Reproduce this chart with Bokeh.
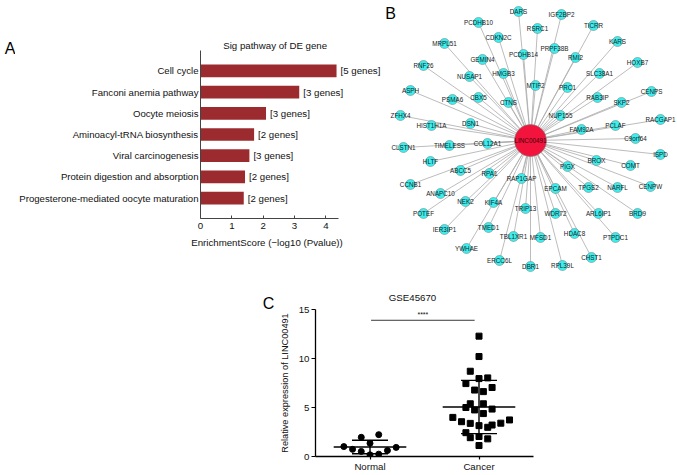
from bokeh.plotting import figure
from bokeh.layouts import column, row
from bokeh.models import Range1d, FactorRange, FixedTicker, Label, Title
from bokeh.embed import file_html
from bokeh.resources import INLINE
from bokeh.core.properties import value
import numpy as np

FONT = "Liberation Sans"

# ---------------- Panel A data ----------------
pathways = ["Cell cycle", "Fanconi anemia pathway", "Oocyte meiosis",
            "Aminoacyl-tRNA biosynthesis", "Viral carcinogenesis",
            "Protein digestion and absorption",
            "Progesterone-mediated oocyte maturation"]
enrichment = [4.34, 3.15, 2.09, 1.71, 1.56, 1.42, 1.38]
gene_counts = [5, 3, 3, 2, 3, 2, 2]
a_ticks = [0, 1, 2, 3, 4]

# ---------------- Panel B data (network layout, hub at origin) ----------------
hub_name = "LINC00491"
node_names = ["DARS", "IGF2BP2", "PCDHB10", "RSRC1", "TICRR", "MRPL51", "CDKN2C",
              "PRPF38B", "KARS", "PCDHB14", "RMI2", "GEMIN4", "HOXB7", "RNF26",
              "NUSAP1", "HMGB3", "SLC38A1", "MTIF2", "PRC1", "ASPH", "CENPS",
              "PSMA6", "CBX5", "RAB3IP", "CTNS", "SKP2", "ZFHX4", "NUP155",
              "HIST1H1A", "DSN1", "RACGAP1", "PCLAF", "FAM92A", "C9orf64",
              "CLSTN1", "TIMELESS", "COL12A1", "ISPD", "HLTF", "ABCC5", "RPA1",
              "PIGX", "BROX", "COMT", "CCNB1", "RAP1GAP", "EPCAM", "TPGS2",
              "NARFL", "CENPW", "ANAPC10", "NEK2", "KIF4A", "TRIP13", "POTEF",
              "WDR72", "ARL6IP1", "BRD9", "IER3IP1", "TMED1", "TBL1XR1", "MFSD1",
              "HDAC8", "PTPDC1", "YWHAE", "ERCC6L", "DBR1", "RPL39L", "CHST1"]
node_x = [-12, 31, -52, 7, 63, -86, -32, 24, 87, -7, 45, -48, 107, -107,
          -61, -27, 69, 5, 37, -120, 121, -78, -52, 67, -22, 91, -130, 30,
          -99, -60, 130, 85, 51, 105, -127, -81, -43, 130, -100, -70, -41,
          37, 66, 100, -120, -9, 25, 58, 87, 120, -90, -65, -37, -5, -107,
          25, 68, 107, -86, -42, -17, 10, 44, 85, -64, -31, 0, 32, 61]
node_y = [129, 126, 118, 112, 115, 97, 103, 92, 99, 86, 83, 81, 78, 75,
          64, 67, 67, 55, 53, 50, 49, 41, 43, 43, 38, 38, 25, 25,
          15, 17, 21, 15, 11, 2, -7, -5, -3, -14, -21, -30, -33,
          -26, -20, -25, -44, -38, -48, -47, -47, -46, -53, -61, -62, -68, -73,
          -73, -73, -73, -89, -87, -96, -97, -93, -97, -108, -120, -126, -125, -117]
hub_x = [0]
hub_y = [0]

# ---------------- Panel C data ----------------
groups = ["Normal", "Cancer"]
normal_vals = [1.01, 0.73, 1.96, 2.23, 1.35, 0.52, 0.17, 0.24, 0.61, 0.93]
normal_slot = [-6, -4, -2, 2, 0, -2, 0, 2, 4, 6]
cancer_vals = [12.28, 10.2, 8.7, 7.95, 8.02, 7.44, 6.78, 6.62, 7.04, 5.38,
               5.38, 5.0, 4.75, 4.84, 4.38, 3.99, 3.55, 3.38, 3.15, 2.98,
               3.21, 3.4, 3.73, 2.43, 1.92, 2.04, 1.8, 1.12]
cancer_slot = [0, 0, -2, 0, 2, -3, -1, 1, 3, -2, 1, -3, -1, 3, 1, -6, -4, -2,
               0, 2, 3, 5, 7, -3, -2, 0, 2, 0]
c_ticks = [0, 5, 10, 15]

BAR = "#9C2B2F"
CYAN = "#3CEFEF"
HUB = "#F2143D"
TXT = "#111111"


def blank(width, height, xr, yr):
    f = figure(width=width, height=height, x_range=xr, y_range=yr,
               x_axis_type=None, y_axis_type=None, min_border=0,
               output_backend="svg", toolbar_location=None)
    f.outline_line_color = None
    f.frame_align = False
    return f


ROW1 = 282
ROW2 = 193

# ================= Panel letter A =================
la = blank(15, ROW1, Range1d(0, 15), Range1d(ROW1, 0))
la.text(x=[9.5], y=[47.5], text=["A"], text_align="center", text_baseline="middle",
        text_font=value(FONT), text_font_size="16px", text_color="#000000")

# ================= Panel A =================
pa = figure(width=369, height=ROW1,
            y_range=FactorRange(factors=pathways[::-1], range_padding=0.46,
                                range_padding_units="absolute"),
            x_range=Range1d(0, 5.87),
            output_backend="svg", toolbar_location=None,
            min_border_left=185, min_border_right=0,
            min_border_top=50, min_border_bottom=64)
pa.frame_align = False
pa.hbar(y=pathways, left=0, right=enrichment, height=0.6,
        fill_color=BAR, line_color=None)
pa.text(x=enrichment, y=pathways, text=[f"[{n} genes]" for n in gene_counts],
        x_offset=4, text_align="left", text_baseline="middle",
        text_font=value(FONT), text_font_size="9.7px", text_color=TXT)
pa.xgrid.visible = False
pa.ygrid.visible = False
pa.outline_line_color = None
pa.title.text = "Sig pathway of DE gene"
pa.title.align = "left"
pa.title.offset = 22.7
pa.title.standoff = 0
pa.title.text_font = FONT
pa.title.text_font_size = "9.7px"
pa.title.text_font_style = "normal"
pa.title.text_color = TXT
pa.add_layout(Title(text="EnrichmentScore (\u2212log10 (Pvalue))", align="left",
                    offset=-9.3, standoff=6, text_font=FONT, text_font_size="9.7px",
                    text_font_style="normal", text_color=TXT), "below")
pa.xaxis.ticker = FixedTicker(ticks=a_ticks)
pa.xaxis.bounds = (0, 4.4)
pa.xaxis.major_tick_in = 3
pa.xaxis.major_tick_out = 0
pa.xaxis.minor_tick_line_color = None
pa.xaxis.major_label_standoff = 4
pa.xaxis.major_label_text_font_size = "9.7px"
pa.yaxis.major_tick_in = 0
pa.yaxis.major_tick_out = 0
pa.yaxis.major_label_standoff = 2
pa.yaxis.major_label_text_font_size = "9.6px"
for ax in (pa.xaxis, pa.yaxis):
    ax.axis_line_color = "#444444"
    ax.major_tick_line_color = "#444444"
    ax.major_label_text_font = FONT
    ax.major_label_text_color = TXT

# ================= Panel B =================
pb = blank(293, ROW1, Range1d(-146, 147), Range1d(-142, 140))
pb.segment(x0=hub_x * len(node_x), y0=hub_y * len(node_y), x1=node_x, y1=node_y,
           line_color="#ABABAB", line_width=0.8)
pb.scatter(x=hub_x, y=hub_y, size=32, marker="circle",
           fill_color=HUB, line_color="#7A7A7A", line_width=0.6)
pb.scatter(x=node_x, y=node_y, size=10, marker="circle",
           fill_color=CYAN, line_color="#6A8A8A", line_width=0.6)
pb.text(x=node_x, y=node_y, text=node_names, text_align="center",
        text_baseline="middle", text_font=value(FONT), text_font_size="6.3px",
        text_color="#222222")
pb.text(x=hub_x, y=hub_y, text=[hub_name], text_align="center",
        text_baseline="middle", text_font=value(FONT), text_font_size="6.3px",
        text_color="#3A0008")
pb.text(x=[-140], y=[127.5], text=["B"], text_align="center",
        text_baseline="middle", text_font=value(FONT), text_font_size="16px",
        text_color="#000000")

# ================= Panel letter C =================
lc = blank(276, ROW2, Range1d(0, 276), Range1d(ROW2, 0))
lc.text(x=[268], y=[21], text=["C"], text_align="center", text_baseline="middle",
        text_font=value(FONT), text_font_size="16px", text_color="#000000")

# ================= Panel C =================
step = 0.04
pc = figure(width=267, height=ROW2, x_range=Range1d(-0.5, 1.5), y_range=Range1d(0, 15),
            output_backend="svg", toolbar_location=None,
            min_border_left=35, min_border_right=10,
            min_border_top=26, min_border_bottom=19)
pc.frame_align = False
pc.xgrid.visible = False
pc.ygrid.visible = False
pc.outline_line_color = None

nx = [0 + s * step for s in normal_slot]
cx = [1 + s * step for s in cancer_slot]
pc.scatter(x=nx, y=normal_vals, marker="circle", size=6, fill_color="black",
           line_color="black")
pc.scatter(x=cx, y=cancer_vals, marker="square", size=6, fill_color="black",
           line_color="black")

for gi, vals in enumerate([normal_vals, cancer_vals]):
    m = float(np.mean(vals))
    sd = float(np.std(vals, ddof=1))
    pc.segment(x0=[gi - 0.333], x1=[gi + 0.333], y0=[m], y1=[m],
               line_color="black", line_width=1.4)
    pc.segment(x0=[gi - 0.165, gi - 0.165, gi], x1=[gi + 0.165, gi + 0.165, gi],
               y0=[m + sd, m - sd, m - sd], y1=[m + sd, m - sd, m + sd],
               line_color="black", line_width=1.4)

pc.segment(x0=[0.01], x1=[0.96], y0=[13.9], y1=[13.9], line_color="#222222",
           line_width=0.9)
pc.add_layout(Label(x=0.485, y=14.5, text="****", text_align="center",
                    text_baseline="middle", text_font=FONT,
                    text_font_size="7px", text_color=TXT))
pc.title.text = "GSE45670"
pc.title.align = "left"
pc.title.offset = 73.3
pc.title.standoff = 14
pc.title.text_font = FONT
pc.title.text_font_size = "9.7px"
pc.title.text_font_style = "normal"
pc.title.text_color = TXT

pc.xaxis.ticker = FixedTicker(ticks=[0, 1])
pc.xaxis.major_label_overrides = {0: groups[0], 1: groups[1]}
pc.xaxis.major_tick_out = 3
pc.xaxis.major_tick_in = 0
pc.xaxis.minor_tick_line_color = None
pc.xaxis.major_label_standoff = 1
pc.yaxis.ticker = FixedTicker(ticks=c_ticks)
pc.yaxis.major_tick_out = 4
pc.yaxis.major_tick_in = 0
pc.yaxis.minor_tick_line_color = None
pc.yaxis.major_label_standoff = 2
pc.yaxis.axis_label = "Relative expression of LINC00491"
pc.yaxis.axis_label_standoff = 6
pc.yaxis.axis_label_text_font = FONT
pc.yaxis.axis_label_text_font_size = "9.2px"
pc.yaxis.axis_label_text_font_style = "normal"
pc.yaxis.axis_label_text_color = TXT
for ax in (pc.xaxis, pc.yaxis):
    ax.axis_line_color = "black"
    ax.axis_line_width = 1.3
    ax.major_tick_line_color = "black"
    ax.major_tick_line_width = 1.2
    ax.major_label_text_font = FONT
    ax.major_label_text_font_size = "9.7px"
    ax.major_label_text_color = TXT

layout = column(row(la, pa, pb), row(lc, pc))

open("out.html", "w").write(file_html(layout, INLINE))
